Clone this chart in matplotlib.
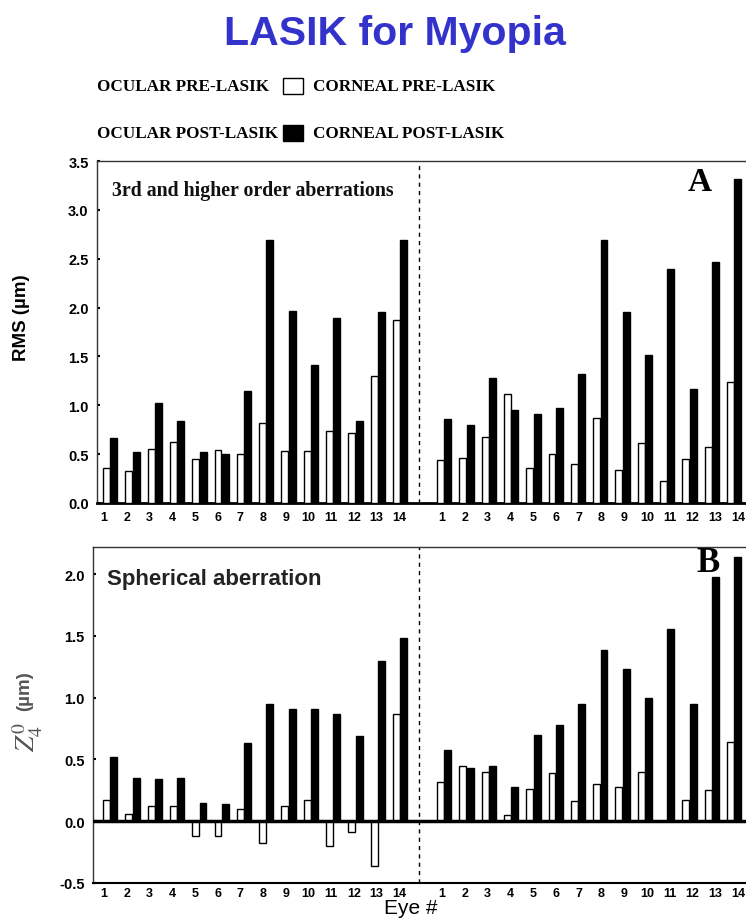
import matplotlib
matplotlib.use("Agg")
import matplotlib.pyplot as plt
from matplotlib.patches import Rectangle

plt.rcParams["mathtext.fontset"] = "stix"

# Eye numbers and the two groups (ocular / corneal) of each panel
eyes = list(range(1, 15))

# Panel A: RMS of 3rd and higher order aberrations (µm)
rms_ocular_pre = [0.36, 0.33, 0.55, 0.62, 0.45, 0.54, 0.50, 0.82, 0.53, 0.53, 0.74, 0.72, 1.30, 1.87]
rms_ocular_post = [0.67, 0.52, 1.02, 0.84, 0.52, 0.50, 1.15, 2.69, 1.96, 1.41, 1.89, 0.84, 1.95, 2.69]
rms_corneal_pre = [0.44, 0.46, 0.68, 1.12, 0.36, 0.50, 0.40, 0.87, 0.34, 0.61, 0.23, 0.45, 0.57, 1.24]
rms_corneal_post = [0.86, 0.80, 1.28, 0.95, 0.91, 0.97, 1.32, 2.69, 1.95, 1.51, 2.39, 1.17, 2.47, 3.32]

# Panel B: spherical aberration Z4^0 (µm)
sa_ocular_pre = [0.17, 0.06, 0.12, 0.12, -0.12, -0.12, 0.10, -0.18, 0.12, 0.17, -0.20, -0.09, -0.36, 0.87]
sa_ocular_post = [0.52, 0.35, 0.34, 0.35, 0.15, 0.14, 0.63, 0.95, 0.91, 0.91, 0.87, 0.69, 1.30, 1.48]
sa_corneal_pre = [0.32, 0.45, 0.40, 0.05, 0.26, 0.39, 0.16, 0.30, 0.28, 0.40, 0.00, 0.17, 0.25, 0.64]
sa_corneal_post = [0.58, 0.43, 0.45, 0.28, 0.70, 0.78, 0.95, 1.39, 1.23, 1.00, 1.56, 0.95, 1.98, 2.14]

rms_ticks = [0.0, 0.5, 1.0, 1.5, 2.0, 2.5, 3.0, 3.5]
sa_ticks = [-0.5, 0.0, 0.5, 1.0, 1.5, 2.0]

GROUP_SHIFT = 14.98   # x offset of the corneal group
SPLIT_X = 15.0        # dashed separator between groups
BAR_W = 0.31
POST_OFFSET = 0.33
SANS = "Liberation Sans"
SERIF = "Liberation Serif"

fig = plt.figure(figsize=(7.46, 9.2), dpi=100)
W, H = 746, 920


def fig_box(left, top, right, bottom):
    return [left / W, 1 - bottom / H, (right - left) / W, (bottom - top) / H]


def label_positions():
    # eye-number labels are spread slightly wider than the bar pairs
    left = [e - 0.11 + (e - 1) * 0.018 for e in eyes]
    right = [e + GROUP_SHIFT + 0.065 + (e - 1) * 0.021 for e in eyes]
    return left + right


def draw_panel(ax, oc_pre, oc_post, co_pre, co_post, ylim, yticks, xlim, xpad):
    xs_left = [e for e in eyes]
    xs_right = [e + GROUP_SHIFT for e in eyes]
    for xs, pre, post in ((xs_left, oc_pre, oc_post), (xs_right, co_pre, co_post)):
        ax.bar(xs, pre, width=BAR_W, color="white",
               edgecolor="black", linewidth=1.0, zorder=3)
        ax.bar([x + POST_OFFSET for x in xs], post, width=BAR_W, color="black",
               edgecolor="black", linewidth=1.0, zorder=3)
    ax.set_xlim(*xlim)
    ax.set_ylim(*ylim)
    ax.set_yticks(yticks)
    ax.set_yticklabels([f"{t:.1f}" for t in yticks], fontfamily=SANS,
                       fontweight="bold", fontsize=10.5)
    ax.set_xticks(label_positions())
    ax.set_xticklabels([str(e) for e in eyes] * 2, fontfamily=SANS,
                       fontweight="bold", fontsize=9)
    ax.tick_params(axis="x", length=0, pad=xpad)
    ax.tick_params(axis="y", direction="in", length=2.5, width=1.5, pad=6)
    ax.axvline(SPLIT_X, color="black", lw=1.0, ls=(0, (3, 3)), zorder=2)
    ax.spines["right"].set_visible(False)
    ax.spines["top"].set_linewidth(1.0)
    ax.spines["left"].set_linewidth(1.0)
    ax.spines["top"].set_color("#333333")
    ax.spines["left"].set_color("#333333")


# Panel A
axA = fig.add_axes(fig_box(97, 162, 746, 504))
draw_panel(axA, rms_ocular_pre, rms_ocular_post, rms_corneal_pre, rms_corneal_post,
           (0, 3.5), rms_ticks, (0.574, 29.68), 6)
axA.spines["bottom"].set_linewidth(2.0)
axA.text(0.023, 0.915, "3rd and higher order aberrations", transform=axA.transAxes,
         fontfamily=SERIF, fontweight="bold", fontsize=14.3, color="#111111",
         va="center", ha="left")
axA.text(0.928, 0.94, "A", transform=axA.transAxes, fontfamily=SERIF,
         fontweight="bold", fontsize=24, ha="center", va="center")
fig.text(22 / W, 1 - 318 / H, "RMS (µm)", fontfamily=SANS, fontweight="bold",
         fontsize=13.5, rotation=90, ha="center", va="center")

# Panel B
axB = fig.add_axes(fig_box(93, 548, 746, 884))
draw_panel(axB, sa_ocular_pre, sa_ocular_post, sa_corneal_pre, sa_corneal_post,
           (-0.5, 2.22), sa_ticks, (0.395, 29.68), 3)
axB.axhline(0, color="black", lw=2.5, zorder=4)
axB.spines["bottom"].set_linewidth(1.5)
axB.text(0.022, 0.905, "Spherical aberration", transform=axB.transAxes,
         fontfamily=SANS, fontweight="bold", fontsize=16, color="#222222",
         va="center", ha="left")
axB.text(0.942, 0.955, "B", transform=axB.transAxes, fontfamily=SERIF,
         fontweight="bold", fontsize=25, ha="center", va="center")
fig.text(28 / W, 1 - 737 / H, r"$Z_4^0$", fontsize=20, color="#555555",
         rotation=90, ha="center", va="center")
fig.text(25 / W, 1 - 691 / H, "(µm)", fontfamily=SANS, fontweight="bold",
         fontsize=13.5, color="#555555", rotation=90, ha="center", va="center")
fig.text(411 / W, 1 - 909 / H, "Eye #", fontfamily=SANS, fontsize=15,
         ha="center", va="center")

# Title
fig.text(395 / W, 1 - 45 / H, "LASIK for Myopia", fontfamily=SANS, fontweight="bold",
         fontsize=29.5, color="#3333CC", ha="center", va="baseline")

# Legend rows
legend_rows = [
    ("OCULAR PRE-LASIK", "white", "CORNEAL PRE-LASIK", 87),
    ("OCULAR POST-LASIK", "black", "CORNEAL POST-LASIK", 134),
]
for left_txt, face, right_txt, yc in legend_rows:
    fig.text(97 / W, 1 - yc / H, left_txt, fontfamily=SERIF, fontweight="bold",
             fontsize=12.3, ha="left", va="center")
    fig.text(313 / W, 1 - yc / H, right_txt, fontfamily=SERIF, fontweight="bold",
             fontsize=12.3, ha="left", va="center")
    fig.patches.append(Rectangle((283 / W, 1 - (yc + 8) / H), 20 / W, 16 / H,
                                 transform=fig.transFigure, facecolor=face,
                                 edgecolor="black", linewidth=1.0))

fig.savefig("out.png", dpi=100)
